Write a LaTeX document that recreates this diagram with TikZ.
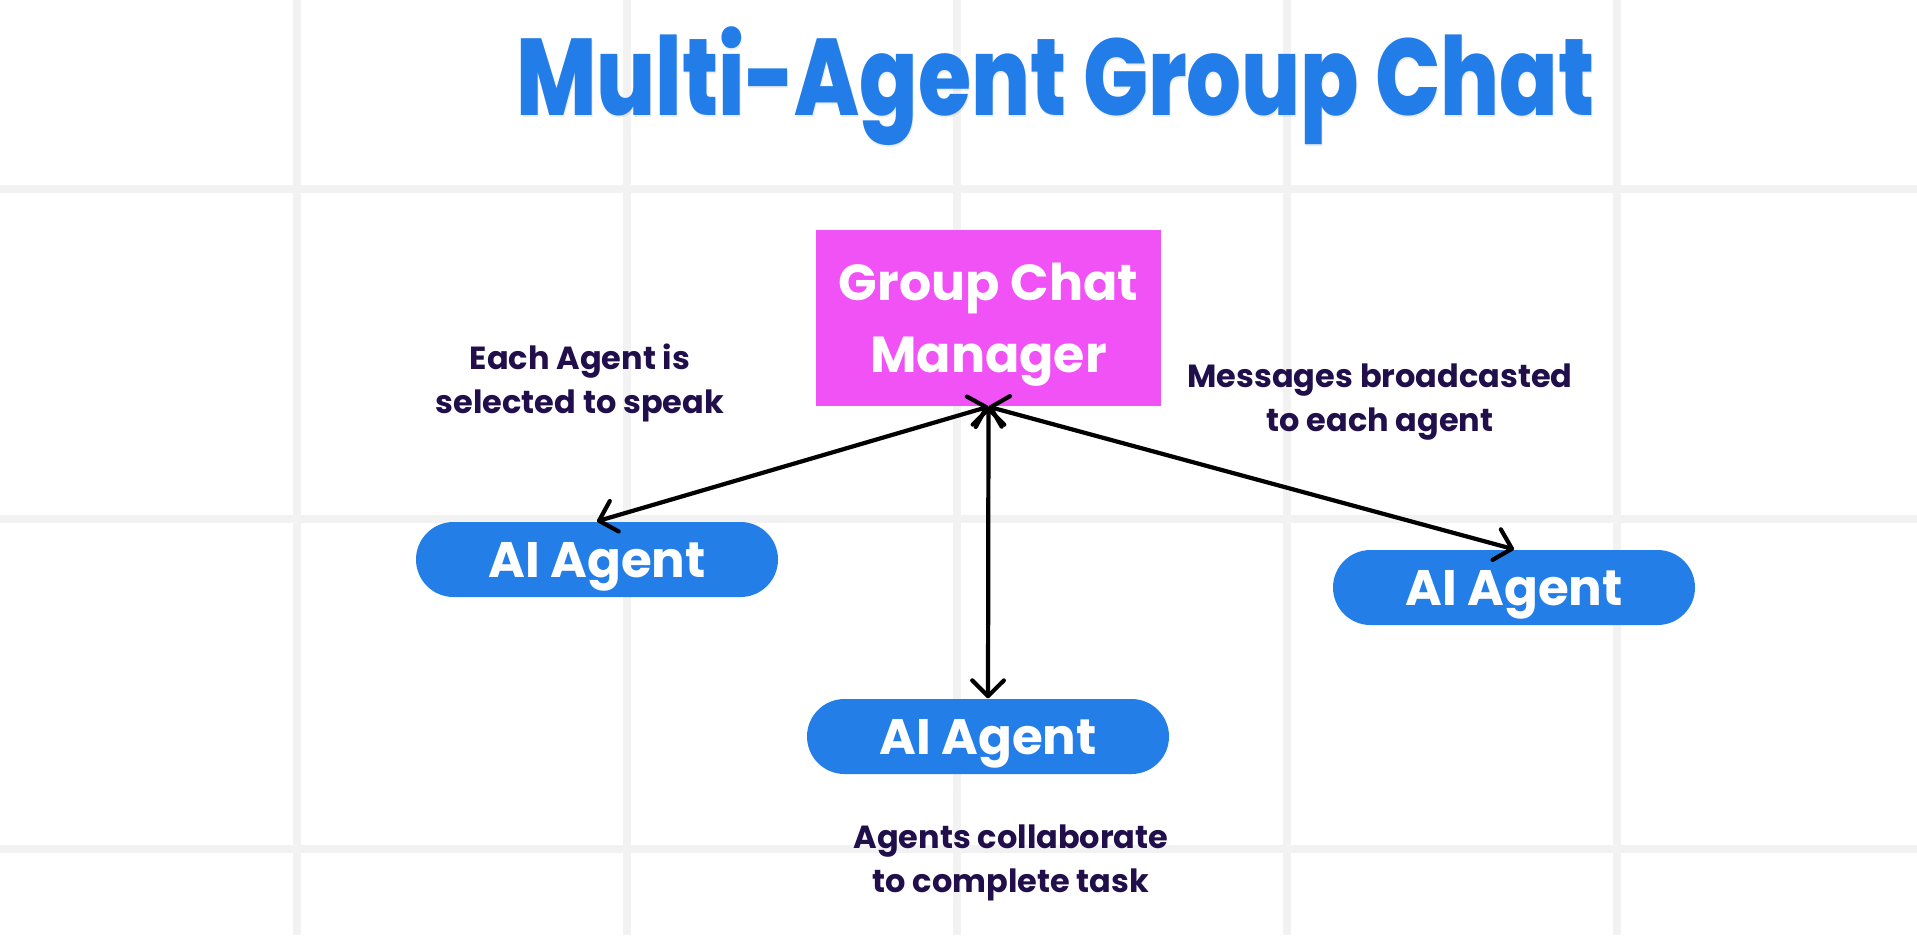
\documentclass[tikz,border=0pt]{standalone}
\usepackage{fontspec}
\setmainfont{Poppins}
\newfontfamily\popbold{Poppins Bold}
\IfFontExistsTF{Poppins ExtraBold}
  {\newfontfamily\popheavy{Poppins ExtraBold}}
  {\newfontfamily\popheavy{Poppins Bold}}
\usetikzlibrary{arrows.meta}

\definecolor{titleblue}{HTML}{237DE8}
\definecolor{agentblue}{HTML}{237EE8}
\definecolor{mgrpink}{HTML}{F152F5}
\definecolor{notenavy}{HTML}{200F4B}
\definecolor{gridgray}{HTML}{F2F2F2}

\begin{document}
\begin{tikzpicture}[
    agent/.style={fill=agentblue, rounded corners=0.375cm, minimum width=3.62cm,
      minimum height=0.75cm, inner sep=0pt, text=white, text depth=0pt,
      font=\popbold\fontsize{14.2}{16}\selectfont},
    manager/.style={fill=mgrpink, minimum width=3.45cm, minimum height=1.76cm,
      inner sep=0pt, text=white, align=center, text depth=0pt,
      font=\popbold\fontsize{14.4}{20.5}\selectfont},
    note/.style={text=notenavy, align=center,
      font=\popbold\fontsize{9.1}{12.6}\selectfont},
    link/.style={{Straight Barb[length=4.5pt,width=9pt,round]}-{Straight Barb[length=4.5pt,width=9pt,round]},
      line width=1.2pt, black},
    heading/.style={anchor=base, xscale=0.79, font=\popheavy\fontsize{31}{36}\selectfont}
  ]
      \useasboundingbox (0,0) rectangle (19.17,-9.35);
      \fill[white] (0,0) rectangle (19.17,-9.35);

      % Grid
      \def\w{0.08}
      \foreach \x in {2.97,6.27,9.57,12.87,16.17} {
        \draw[gridgray, line width=\w cm] (\x,0) -- (\x,-9.35);
      };
      \foreach \y in {1.89,5.19,8.49} {
        \draw[gridgray, line width=\w cm] (0,-\y) -- (19.17,-\y);
      };

      % Title
      \node[heading, text=black, opacity=0.07] (shadow) at (10.565,-1.17) {Multi-Agent Group Chat};
      \node[heading, text=titleblue] (title) at (10.555,-1.15) {Multi-Agent Group Chat};

      % Nodes
      \node[manager] (mgr) at (9.885,-3.18) {Group Chat\\Manager};
      \node[agent] (left) at (5.97,-5.595) {AI Agent};
      \node[agent] (right) at (15.14,-5.875) {AI Agent};
      \node[agent] (bottom) at (9.88,-7.365) {AI Agent};

      % Links
      \draw[link] (mgr.south) -- (left.north);
      \draw[link] (mgr.south) -- (right.north);
      \draw[link] (mgr.south) -- (bottom.north);

      % Notes
      \node[note] (select) at (5.80,-3.83) {Each Agent is\\selected to speak};
      \node[note] (broadcast) at (13.80,-4.02) {Messages broadcasted\\to each agent};
      \node[note] (collab) at (10.11,-8.63) {Agents collaborate\\to complete task};
    \end{tikzpicture}
\end{document}
